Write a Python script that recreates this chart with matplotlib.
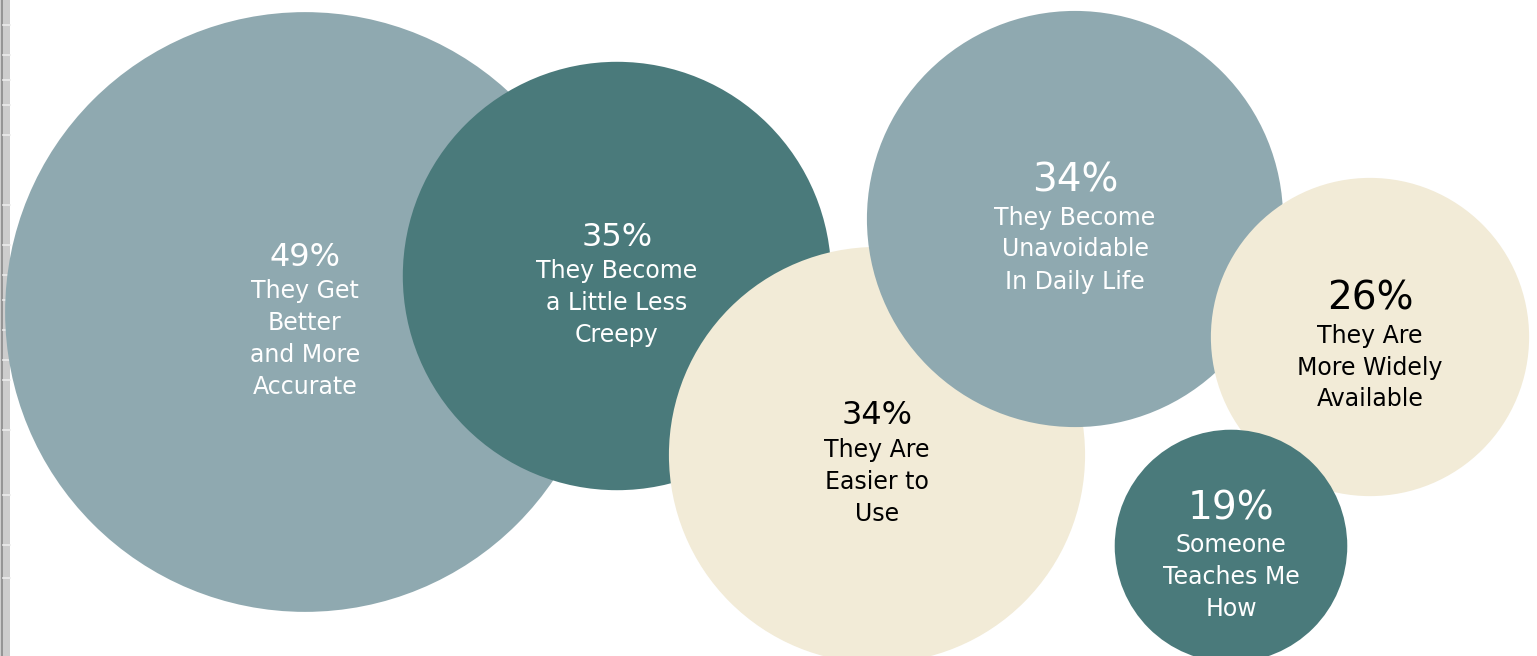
import matplotlib
matplotlib.use("Agg")
import matplotlib.pyplot as plt
from matplotlib.patches import Circle, Rectangle

plt.rcParams['font.family'] = ['DejaVu Sans']

# Survey shares and their statements
values = [49, 35, 34, 34, 26, 19]
labels = [
    ["They Get", "Better", "and More", "Accurate"],
    ["They Become", "a Little Less", "Creepy"],
    ["They Are", "Easier to", "Use"],
    ["They Become", "Unavoidable", "In Daily Life"],
    ["They Are", "More Widely", "Available"],
    ["Someone", "Teaches Me", "How"],
]

# Layout of the bubbles (pixel space, y downwards)
centers = [(305, 312), (617, 276), (877, 455), (1075, 219), (1370, 337), (1231, 546)]
colors = ["#8FA9B0", "#4A7A7B", "#F2EBD7", "#8FA9B0", "#F2EBD7", "#4A7A7B"]
text_colors = ["white", "white", "black", "white", "black", "white"]
pct_sizes = [23, 23, 23, 28, 28, 28]
label_size = 17
px_per_point = 6.12  # bubble radius per percentage point

W, H = 1537, 656
fig = plt.figure(figsize=(W / 100, H / 100), dpi=100)
ax = fig.add_axes([0, 0, 1, 1])
ax.set_xlim(0, W)
ax.set_ylim(H, 0)
ax.set_aspect('equal')
ax.axis('off')
fig.patch.set_facecolor('white')

# left window-edge strip
ax.add_patch(Rectangle((0, 0), 10, H, facecolor='#CDCDCD', edgecolor='none', zorder=0))
ax.plot([1.5, 1.5], [0, H], color='#8A8A8A', lw=1.2, zorder=0.5)
for y in [25, 55, 80, 105, 135, 205, 245, 275, 300, 330, 360, 380, 430, 495, 545, 578]:
    ax.plot([3, 10], [y, y], color='#EDEDED', lw=1.2, zorder=0.5)

for i, (v, lab, (cx, cy)) in enumerate(zip(values, labels, centers)):
    r = v * px_per_point
    ax.add_patch(Circle((cx, cy), r, facecolor=colors[i], edgecolor='none', zorder=1 + i))
    big = pct_sizes[i] >= 25
    gap = 38 if big else 35
    line_h = 32
    span = gap + (len(lab) - 1) * line_h
    top = cy + (9 if big else 7) - span / 2
    ax.text(cx, top, f"{v}%", ha='center', va='center_baseline', fontsize=pct_sizes[i],
            color=text_colors[i], zorder=10)
    for j, line in enumerate(lab):
        ax.text(cx, top + gap + j * line_h, line, ha='center', va='center_baseline',
                fontsize=label_size, color=text_colors[i], zorder=10)

fig.savefig("out.png", dpi=100, facecolor='white')
